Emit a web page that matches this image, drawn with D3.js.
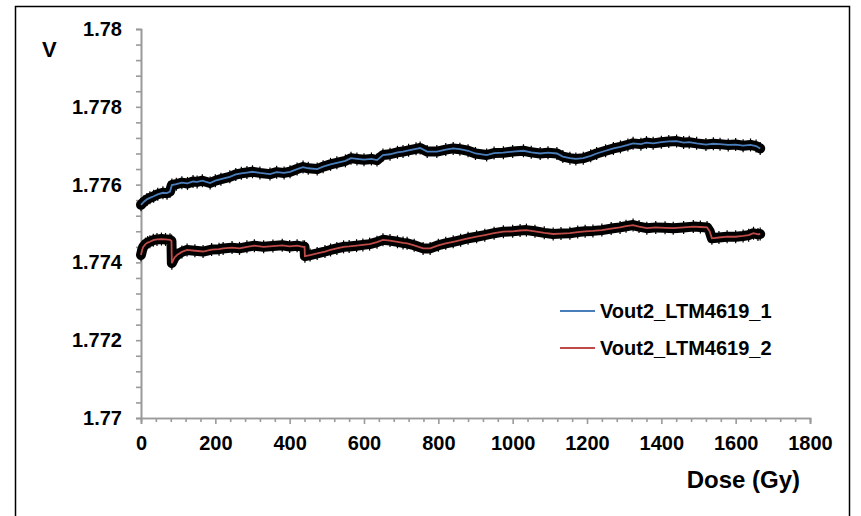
<!DOCTYPE html>
<html>
<head>
<meta charset="utf-8">
<script src="https://cdn.jsdelivr.net/npm/d3@7"></script>
<style>
  body { margin: 0; background: #fff; }
  svg text { font-family: "Liberation Sans", Arial, sans-serif; font-weight: bold; fill: #000; }
</style>
</head>
<body>
<div id="chart"></div>
<script>
// Data
var seriesNames = ["Vout2_LTM4619_1", "Vout2_LTM4619_2"];
var seriesColors = ["#4a7ebb", "#be4b48"];

var dose1 = [0, 8, 16, 24, 34, 45, 59, 70, 78, 83, 95, 110, 125, 140, 151, 165, 186, 200, 215, 239,
  255, 270, 285, 300, 320, 347, 365, 385, 401, 420, 436, 450, 474, 490, 510, 527, 550, 565, 581, 600,
  620, 635, 651, 670, 690, 705, 720, 740, 751, 770, 796, 820, 840, 858, 880, 900, 930, 950, 975, 1000,
  1029, 1050, 1074, 1095, 1119, 1135, 1154, 1170, 1190, 1210, 1226, 1250, 1271, 1290, 1310, 1324, 1345,
  1360, 1378, 1400, 1420, 1441, 1460, 1475, 1495, 1520, 1540, 1558, 1580, 1600, 1620, 1640, 1655, 1666];
var volt1 = [1.77548, 1.77556, 1.77562, 1.77566, 1.77570, 1.77575, 1.77579, 1.77578, 1.77582, 1.77599,
  1.77601, 1.77605, 1.77603, 1.77608, 1.77607, 1.77610, 1.77604, 1.77610, 1.77614, 1.77620,
  1.77626, 1.77629, 1.77631, 1.77633, 1.77630, 1.77627, 1.77632, 1.77630, 1.77633, 1.77640,
  1.77645, 1.77642, 1.77640, 1.77646, 1.77652, 1.77656, 1.77661, 1.77668, 1.77666, 1.77664,
  1.77666, 1.77663, 1.77676, 1.77678, 1.77683, 1.77685, 1.77688, 1.77692, 1.77694, 1.77685,
  1.77685, 1.77690, 1.77693, 1.77691, 1.77687, 1.77680, 1.77676, 1.77681, 1.77682, 1.77685,
  1.77687, 1.77683, 1.77680, 1.77682, 1.77680, 1.77672, 1.77668, 1.77666, 1.77668, 1.77674,
  1.77680, 1.77687, 1.77693, 1.77697, 1.77702, 1.77706, 1.77704, 1.77708, 1.77706, 1.77709,
  1.77711, 1.77712, 1.77708, 1.77709, 1.77706, 1.77703, 1.77705, 1.77704, 1.77702, 1.77703,
  1.77700, 1.77702, 1.77699, 1.77693];

var dose2 = [0, 3, 6, 12, 18, 24, 33, 43, 55, 66, 78, 82, 83, 90, 97, 110, 124, 145, 167, 190,
  210, 221, 245, 265, 285, 305, 330, 355, 380, 400, 420, 436, 440, 441, 455, 474, 495, 510, 527, 545,
  560, 580, 597, 615, 635, 651, 670, 690, 705, 716, 735, 759, 778, 800, 820, 840, 860, 880, 903, 925,
  950, 975, 1000, 1020, 1037, 1060, 1085, 1109, 1130, 1154, 1175, 1195, 1216, 1240, 1265, 1289, 1305,
  1324, 1340, 1361, 1385, 1410, 1432, 1460, 1486, 1505, 1523, 1530, 1536, 1555, 1577, 1600, 1620,
  1635, 1648, 1660, 1666];
var volt2 = [1.77419, 1.77432, 1.77440, 1.77447, 1.77451, 1.77453, 1.77457, 1.77459, 1.77460, 1.77459,
  1.77458, 1.77455, 1.77398, 1.77412, 1.77419, 1.77427, 1.77432, 1.77430, 1.77428, 1.77433,
  1.77434, 1.77436, 1.77438, 1.77436, 1.77440, 1.77443, 1.77440, 1.77442, 1.77444, 1.77441,
  1.77443, 1.77440, 1.77440, 1.77416, 1.77419, 1.77423, 1.77428, 1.77432, 1.77436, 1.77440,
  1.77441, 1.77443, 1.77445, 1.77447, 1.77452, 1.77458, 1.77456, 1.77453, 1.77450, 1.77449,
  1.77444, 1.77436, 1.77436, 1.77444, 1.77449, 1.77453, 1.77457, 1.77462, 1.77466, 1.77470,
  1.77475, 1.77479, 1.77480, 1.77482, 1.77483, 1.77480, 1.77476, 1.77473, 1.77474, 1.77475,
  1.77478, 1.77480, 1.77481, 1.77483, 1.77487, 1.77490, 1.77493, 1.77496, 1.77492, 1.77488,
  1.77490, 1.77489, 1.77488, 1.77490, 1.77492, 1.77491, 1.77490, 1.77480, 1.77462, 1.77464,
  1.77466, 1.77466, 1.77468, 1.77470, 1.77475, 1.77472, 1.77473];

var xTicks = [0, 200, 400, 600, 800, 1000, 1200, 1400, 1600, 1800];
var yTicks = [1.77, 1.772, 1.774, 1.776, 1.778, 1.78];

var svgWidth = 861;
var svgHeight = 516;
var margin = { top: 29, right: 51, bottom: 98, left: 141 };
var width = svgWidth - margin.left - margin.right;
var height = svgHeight - margin.top - margin.bottom;

var svg = d3.select("#chart")
  .append("svg")
  .attr("width", svgWidth)
  .attr("height", svgHeight);

// outer frame (bottom edge runs off the picture)
svg.append("rect")
  .attr("x", 15.5).attr("y", 6.5)
  .attr("width", 834).attr("height", 530)
  .attr("fill", "none")
  .attr("stroke", "#000")
  .attr("stroke-width", 1.5);

var chartGroup = svg.append("g")
  .attr("transform", `translate(${margin.left}, ${margin.top})`);

var xScale = d3.scaleLinear().domain([0, 1800]).range([0, width]);
var yScale = d3.scaleLinear().domain([1.77, 1.78]).range([height, 0]);

// minor ticks first
var xMinor = d3.range(0, 1801, 40).filter(d => d % 200 !== 0);
var yMinor = d3.range(0, 26).map(i => 1.77 + i * 0.0004).filter((d, i) => i % 5 !== 0);

chartGroup.append("g")
  .attr("class", "axis")
  .attr("transform", `translate(0, ${height})`)
  .call(d3.axisBottom(xScale).tickValues(xMinor).tickSize(4).tickFormat(""));
chartGroup.append("g")
  .attr("class", "axis")
  .call(d3.axisLeft(yScale).tickValues(yMinor).tickSize(5).tickFormat(""));

var bottomAxis = d3.axisBottom(xScale).tickValues(xTicks).tickSize(6).tickPadding(12).tickFormat(d3.format("d"));
var leftAxis = d3.axisLeft(yScale).tickValues(yTicks).tickSize(5).tickPadding(14).tickFormat(d => +d.toFixed(3) + "");

chartGroup.append("g")
  .attr("class", "axis")
  .attr("transform", `translate(0, ${height})`)
  .call(bottomAxis);
chartGroup.append("g")
  .attr("class", "axis")
  .call(leftAxis);

chartGroup.selectAll(".axis path, .axis line")
  .attr("stroke", "#9a9a9a")
  .attr("stroke-width", 1.6);
chartGroup.selectAll(".axis text")
  .style("font-size", "20px");

var series = [
  { name: seriesNames[0], color: seriesColors[0], pts: dose1.map((d, i) => [d, volt1[i]]) },
  { name: seriesNames[1], color: seriesColors[1], pts: dose2.map((d, i) => [d, volt2[i]]) }
];

var line = d3.line()
  .x(d => xScale(d[0]))
  .y(d => yScale(d[1]));

series.forEach(function (s) {
  // black marker band under the coloured line
  chartGroup.append("path")
    .datum(s.pts)
    .attr("d", line)
    .attr("fill", "none")
    .attr("stroke", "#000")
    .attr("stroke-width", 10)
    .attr("stroke-linejoin", "round")
    .attr("stroke-linecap", "round");

  chartGroup.selectAll(null)
    .data(s.pts)
    .enter()
    .append("path")
    .attr("transform", d => `translate(${xScale(d[0])}, ${yScale(d[1])})`)
    .attr("d", "M0,-6.5V6.5")
    .attr("stroke", "#000")
    .attr("stroke-width", 1.2);

  chartGroup.append("path")
    .datum(s.pts)
    .attr("d", line)
    .attr("fill", "none")
    .attr("stroke", s.color)
    .attr("stroke-width", 1.8);
});

// legend
var legend = svg.append("g");
series.forEach(function (s, i) {
  var ly = 311 + i * 37;
  legend.append("line")
    .attr("x1", 560).attr("x2", 595)
    .attr("y1", ly).attr("y2", ly)
    .attr("stroke", s.color)
    .attr("stroke-width", 2);
  legend.append("text")
    .attr("x", 600).attr("y", ly + 7)
    .style("font-size", "20px")
    .text(s.name);
});

// axis titles
svg.append("text")
  .attr("x", 42).attr("y", 57)
  .style("font-size", "22px")
  .text("V");

svg.append("text")
  .attr("x", 800).attr("y", 488)
  .attr("text-anchor", "end")
  .style("font-size", "24px")
  .text("Dose (Gy)");
</script>
</body>
</html>
